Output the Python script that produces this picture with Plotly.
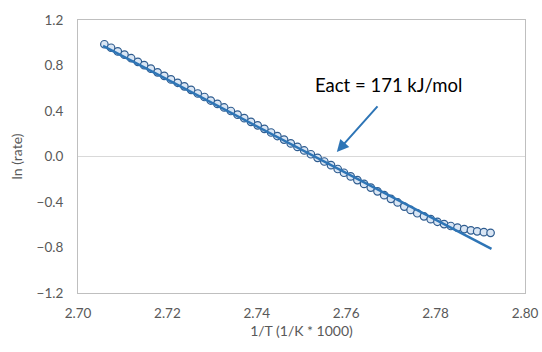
import plotly.graph_objects as go

inv_T = [2.7059, 2.7074, 2.7089, 2.7104, 2.7119, 2.7134, 2.7148, 2.7163, 2.7178, 2.7193,
         2.7208, 2.7223, 2.7238, 2.7253, 2.7268, 2.7283, 2.7297, 2.7312, 2.7327, 2.7342,
         2.7357, 2.7372, 2.7387, 2.7402, 2.7417, 2.7432, 2.7446, 2.7461, 2.7476, 2.7491,
         2.7506, 2.7521, 2.7536, 2.7551, 2.7566, 2.7581, 2.7595, 2.7610, 2.7625, 2.7640,
         2.7655, 2.7670, 2.7685, 2.7700, 2.7715, 2.7730, 2.7744, 2.7759, 2.7774, 2.7789,
         2.7804, 2.7819, 2.7834, 2.7849, 2.7864, 2.7879, 2.7893, 2.7908, 2.7923]
ln_rate = [0.987, 0.956, 0.924, 0.895, 0.864, 0.832, 0.803, 0.772, 0.740, 0.709,
           0.678, 0.648, 0.617, 0.586, 0.554, 0.523, 0.492, 0.462, 0.431, 0.400,
           0.368, 0.337, 0.305, 0.274, 0.243, 0.211, 0.180, 0.149, 0.115, 0.084,
           0.053, 0.020, -0.012, -0.044, -0.076, -0.110, -0.143, -0.175, -0.207, -0.241,
           -0.273, -0.306, -0.340, -0.372, -0.404, -0.440, -0.470, -0.499, -0.526, -0.551,
           -0.574, -0.594, -0.611, -0.625, -0.638, -0.649, -0.658, -0.665, -0.671]
fit_x = [2.7056, 2.7925]
fit_y = [0.972, -0.813]
x_ticks = [2.70, 2.72, 2.74, 2.76, 2.78, 2.80]
y_ticks = [-1.2, -0.8, -0.4, 0.0, 0.4, 0.8, 1.2]
label = "Eact = 171 kJ/mol"

FONT = "Lato, 'Liberation Sans', sans-serif"

fig = go.Figure()
fig.add_trace(go.Scatter(
    x=inv_T, y=ln_rate, mode="markers",
    marker=dict(symbol="circle", size=7.5, color="#DAE6F4",
                line=dict(color="#2F5C8F", width=1.2)),
    showlegend=False, hoverinfo="skip"))
fig.add_trace(go.Scatter(
    x=fit_x, y=fit_y, mode="lines",
    line=dict(color="#2E75B6", width=2.5),
    showlegend=False, hoverinfo="skip"))

fig.add_annotation(x=2.7579, y=0.04, xref="x", yref="y",
                   ax=2.7673, ay=0.454, axref="x", ayref="y",
                   text="", showarrow=True, arrowhead=2, arrowsize=1.2,
                   arrowwidth=2, arrowcolor="#2E75B6", standoff=0)
fig.add_annotation(x=2.7694, y=0.63, xref="x", yref="y", text=label,
                   showarrow=False, font=dict(family=FONT, size=18.5, color="#000000"))

fig.update_layout(
    width=542, height=352,
    margin=dict(l=78, r=17, t=20, b=59, autoexpand=False),
    paper_bgcolor="white", plot_bgcolor="white",
    font=dict(family=FONT, size=13.5, color="#595959"),
)
fig.update_xaxes(range=[2.70, 2.80], tickvals=x_ticks, tickformat=".2f", automargin=False,
                 showgrid=False, zeroline=False, showline=True, mirror=True,
                 linecolor="#BFBFBF", linewidth=1, ticks="", ticklabelstandoff=8,
                 title=dict(text="1/T (1/K * 1000)", standoff=5,
                            font=dict(size=14, color="#595959")))
fig.update_yaxes(range=[-1.2, 1.2], tickvals=y_ticks, tickformat=".1f", automargin=False,
                 showgrid=False, zeroline=True, zerolinecolor="#D9D9D9", zerolinewidth=1,
                 showline=True, mirror=True,
                 linecolor="#BFBFBF", linewidth=1, ticks="", ticklabelstandoff=11,
                 title=dict(text="ln (rate)", standoff=10,
                            font=dict(size=14, color="#595959")))

# remove the browser's default page margin so the figure fills the window exactly
fig.write_html("out.html",
               config={"displayModeBar": False},
               post_script="document.body.style.margin='0';"
                           "document.documentElement.style.overflow='hidden';")
